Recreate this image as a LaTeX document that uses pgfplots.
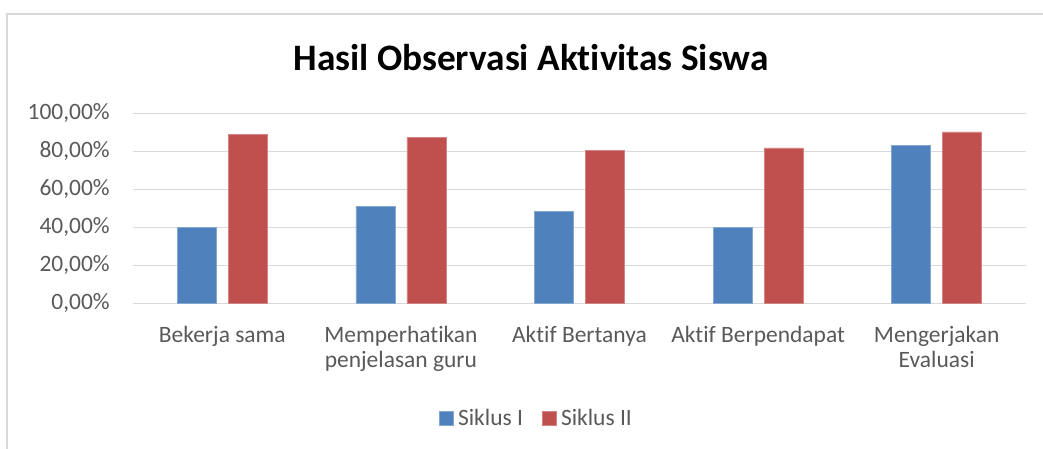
\documentclass[border=0pt]{standalone}
\usepackage{fontspec}
\setmainfont{Carlito}[RawFeature={-liga;-clig;-calt;-dlig}]
\usepackage{pgfplots}
\pgfplotsset{compat=1.18}
\definecolor{sblue}{HTML}{4F81BD}
\definecolor{sred}{HTML}{C0504D}
\definecolor{txt}{HTML}{595959}
\definecolor{gridc}{HTML}{D9D9D9}
\begin{document}
\begin{tikzpicture}[x=0.75pt,y=0.75pt]
\useasboundingbox (0,0) rectangle (1043,449);
\draw[gridc, line width=1.2pt] (7,-5) -- (7,435) -- (1050,435);
\node[anchor=base, font=\fontsize{28}{32}\selectfont\bfseries, text=black] at (531,378) {Hasil Observasi Aktivitas Siswa};
\begin{axis}[
  at={(99.75pt,109.275pt)}, anchor=south west,
  scale only axis, width=669.75pt, height=142.5pt,
  xmin=-0.5, xmax=4.5, ymin=0, ymax=100,
  ybar=9pt, bar width=29.25pt,
  xtick={0,1,2,3,4},
  xticklabels={Bekerja sama,{Memperhatikan\\penjelasan guru},Aktif Bertanya,Aktif Berpendapat,{Mengerjakan\\Evaluasi}},
  xticklabel style={align=center, anchor=north, inner sep=0pt, yshift=-17pt},
  ytick={0,20,40,60,80,100},
  yticklabels={{0,00\%},{20,00\%},{40,00\%},{60,00\%},{80,00\%},{100,00\%}},
  yticklabel style={anchor=east, inner sep=0pt, xshift=-17.25pt},
  ymajorgrids, grid style={draw=gridc, line width=1pt},
  axis line style={draw=none}, major tick length=0pt,
  tick label style={font=\fontsize{17.6}{19}\selectfont, text=txt},
  legend columns=2,
  legend style={at={(0.452,-0.604)}, anchor=center, draw=none, fill=none,
    font=\fontsize{17.6}{19}\selectfont, text=txt,
    /tikz/every odd column/.append style={column sep=1.5pt},
    /tikz/every even column/.append style={column sep=12pt}},
  legend image code/.code={\fill[#1] (0pt,-5.25pt) rectangle (10.5pt,5.25pt);},
]
\addplot[fill=sblue, draw=sblue!70!white, line width=0.5pt] coordinates {(0,40.0) (1,51.0) (2,48.2) (3,40.0) (4,83.2)};
\addplot[fill=sred, draw=sred!70!white, line width=0.5pt] coordinates {(0,88.9) (1,87.4) (2,80.5) (3,81.8) (4,90.2)};
\legend{Siklus I, Siklus II}
\end{axis}
\end{tikzpicture}
\end{document}
